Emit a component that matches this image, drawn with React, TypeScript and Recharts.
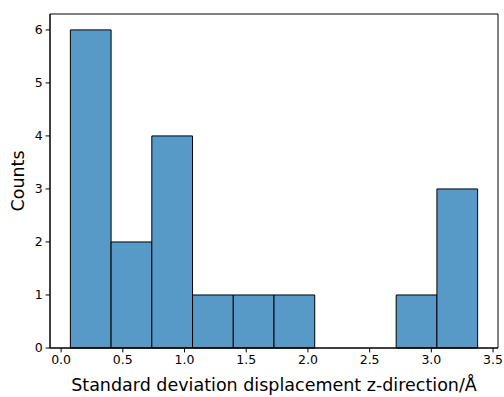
import { ComposedChart, XAxis, YAxis, ReferenceArea, Label } from 'recharts';

// histogram of the z-direction displacement spread
const binEdges = [0.075, 0.405, 0.735, 1.065, 1.395, 1.725, 2.055, 2.385, 2.715, 3.045, 3.375];
const counts = [6, 2, 4, 1, 1, 1, 0, 0, 1, 3];
const xTicks = [0, 0.5, 1, 1.5, 2, 2.5, 3, 3.5];
const yTicks = [0, 1, 2, 3, 4, 5, 6];
const xDomain: [number, number] = [-0.09, 3.54];
const yDomain: [number, number] = [0, 6.3];

const bins = counts.map((count, i) => ({ x0: binEdges[i], x1: binEdges[i + 1], count }));

const FONT = 'DejaVu Sans, sans-serif';
const tickStyle = { fill: '#000', fontSize: 12.5, fontFamily: FONT };
const axisStroke = { stroke: '#000', strokeWidth: 1 };

export default function App() {
  return (
    <div style={{ position: 'absolute', left: 0, top: 0, background: '#fff' }}>
      <ComposedChart width={504} height={397} data={bins} margin={{ top: 14, right: 6, bottom: 0, left: 0 }}>
        <XAxis
          type="number"
          dataKey="x0"
          domain={xDomain}
          allowDataOverflow
          ticks={xTicks}
          tickFormatter={(v: number) => v.toFixed(1)}
          tick={tickStyle}
          tickSize={4.4}
          tickMargin={3}
          tickLine={axisStroke}
          axisLine={axisStroke}
          height={49}
          interval={0}
        >
          <Label
            value="Standard deviation displacement z-direction/Å"
            position="insideBottom"
            offset={6}
            style={{ fill: '#000', fontSize: 17.5, fontFamily: FONT }}
          />
        </XAxis>
        <YAxis
          type="number"
          domain={yDomain}
          allowDataOverflow
          ticks={yTicks}
          tick={tickStyle}
          tickSize={4.4}
          tickMargin={3}
          tickLine={axisStroke}
          axisLine={axisStroke}
          width={50}
          interval={0}
        >
          <Label
            value="Counts"
            angle={-90}
            position="center"
            dx={-7}
            style={{ fill: '#000', fontSize: 17.5, fontFamily: FONT, textAnchor: 'middle' }}
          />
        </YAxis>
        {bins
          .filter((b) => b.count > 0)
          .map((b, i) => (
            <ReferenceArea
              key={i}
              x1={b.x0}
              x2={b.x1}
              y1={0}
              y2={b.count}
              fill="#5799c7"
              fillOpacity={1}
              stroke="#000"
              strokeWidth={1}
              strokeOpacity={1}
            />
          ))}
        {/* closed frame around the plot area */}
        <ReferenceArea
          x1={xDomain[0]}
          x2={xDomain[1]}
          y1={yDomain[0]}
          y2={yDomain[1]}
          fill="none"
          stroke="#000"
          strokeWidth={1}
          strokeOpacity={1}
        />
      </ComposedChart>
    </div>
  );
}
